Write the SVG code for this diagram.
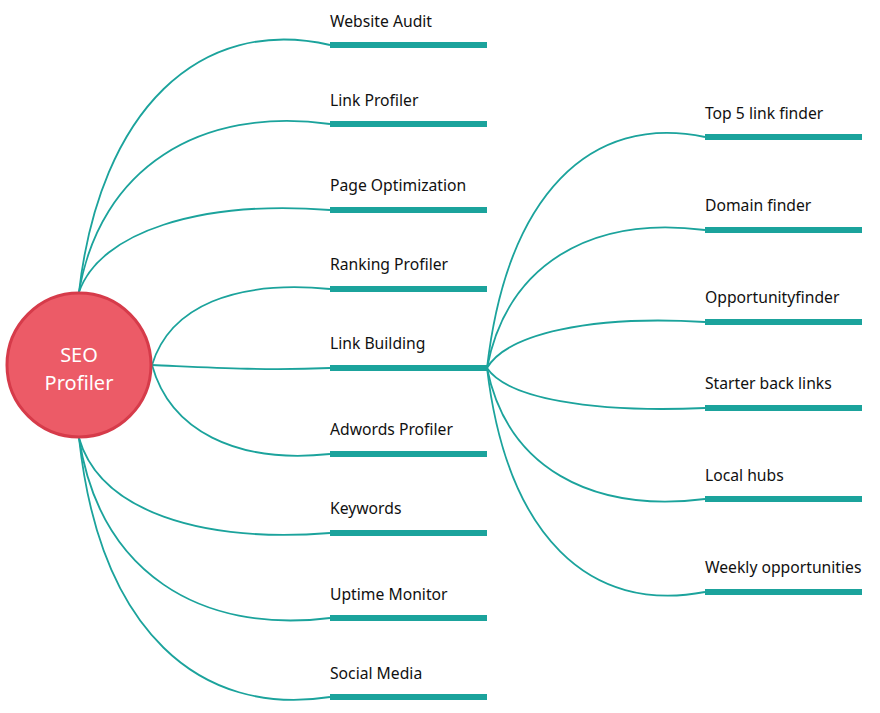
<svg xmlns="http://www.w3.org/2000/svg" width="880" height="713" viewBox="0 0 880 713">
<style>
.c{fill:none;stroke:#1BA39C;stroke-width:1.8}
.b{fill:#1BA39C}
.t{font-family:"Noto Sans","Open Sans",sans-serif;font-size:15.7px;fill:#111}
.w{font-family:"Noto Sans","Open Sans",sans-serif;font-size:20px;fill:#fff;text-anchor:middle}
</style>
<rect width="880" height="713" fill="#fff"/>
<g id="connectors">
<path class="c" d="M79,292 C100,110 200,15 330,45"/>
<path class="c" d="M79,292 C100,168 200,106 330,124"/>
<path class="c" d="M79,292 C100,232 200,200 330,210"/>
<path class="c" d="M152,365 C170,306 235,280 330,289"/>
<path class="c" d="M152,365 C200,367 260,371 330,368"/>
<path class="c" d="M152,365 C170,430 235,464 330,454"/>
<path class="c" d="M79,438 C100,511 200,543 330,533"/>
<path class="c" d="M79,438 C100,573 200,634 330,618"/>
<path class="c" d="M79,438 C100,632 200,717 330,697"/>
<path class="c" d="M487,368 C507,195 590,113 705,137"/>
<path class="c" d="M487,368 C507,265 590,215 705,230"/>
<path class="c" d="M487,368 C507,334 590,315 705,322"/>
<path class="c" d="M487,368 C507,398 590,413 705,408"/>
<path class="c" d="M487,368 C507,467 590,513 705,499"/>
<path class="c" d="M487,368 C507,537 590,614 705,592"/>
</g>
<g id="root">
<circle cx="79" cy="365" r="72" fill="#EC5B67" stroke="#D63B4A" stroke-width="3"/>
<text class="w" x="79" y="362">SEO</text>
<text class="w" x="79" y="390">Profiler</text>
</g>
<g id="website-audit"><text class="t" x="330" y="27">Website Audit</text><rect class="b" x="330" y="42" width="157" height="6"/></g>
<g id="link-profiler"><text class="t" x="330" y="106">Link Profiler</text><rect class="b" x="330" y="121" width="157" height="6"/></g>
<g id="page-optimization"><text class="t" x="330" y="191">Page Optimization</text><rect class="b" x="330" y="207" width="157" height="6"/></g>
<g id="ranking-profiler"><text class="t" x="330" y="270">Ranking Profiler</text><rect class="b" x="330" y="286" width="157" height="6"/></g>
<g id="link-building"><text class="t" x="330" y="349">Link Building</text><rect class="b" x="330" y="365" width="157" height="6"/></g>
<g id="adwords-profiler"><text class="t" x="330" y="435">Adwords Profiler</text><rect class="b" x="330" y="451" width="157" height="6"/></g>
<g id="keywords"><text class="t" x="330" y="514">Keywords</text><rect class="b" x="330" y="530" width="157" height="6"/></g>
<g id="uptime-monitor"><text class="t" x="330" y="600">Uptime Monitor</text><rect class="b" x="330" y="615" width="157" height="6"/></g>
<g id="social-media"><text class="t" x="330" y="679">Social Media</text><rect class="b" x="330" y="694" width="157" height="6"/></g>
<g id="top5"><text class="t" x="705" y="119">Top 5 link finder</text><rect class="b" x="705" y="134" width="157" height="6"/></g>
<g id="domain-finder"><text class="t" x="705" y="211">Domain finder</text><rect class="b" x="705" y="227" width="157" height="6"/></g>
<g id="opportunity-finder"><text class="t" x="705" y="303">Opportunityfinder</text><rect class="b" x="705" y="319" width="157" height="6"/></g>
<g id="starter-back-links"><text class="t" x="705" y="389">Starter back links</text><rect class="b" x="705" y="405" width="157" height="6"/></g>
<g id="local-hubs"><text class="t" x="705" y="481">Local hubs</text><rect class="b" x="705" y="496" width="157" height="6"/></g>
<g id="weekly-opportunities"><text class="t" x="705" y="573">Weekly opportunities</text><rect class="b" x="705" y="589" width="157" height="6"/></g>
</svg>
